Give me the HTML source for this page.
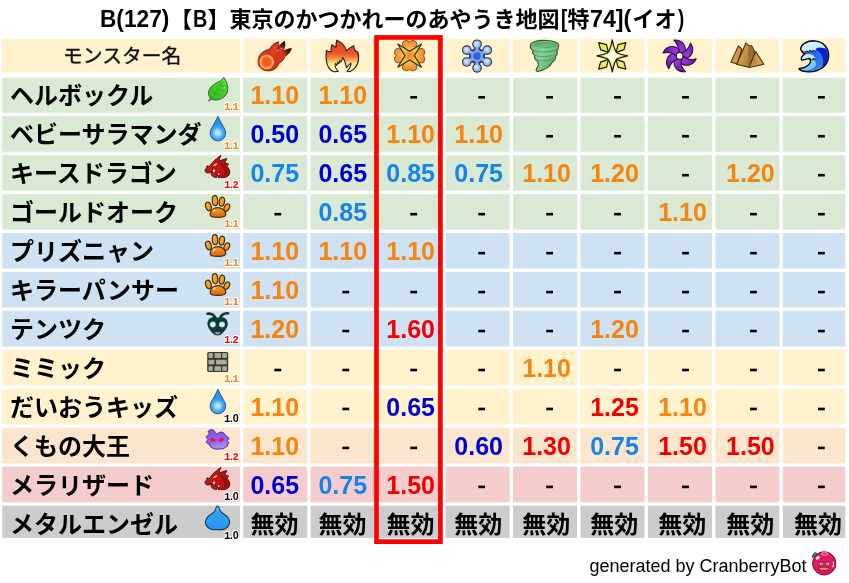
<!DOCTYPE html>
<html lang="ja"><head><meta charset="utf-8"><title>B(127)【B】東京のかつかれーのあやうき地図[特74](イオ)</title>
<style>
html,body{margin:0;padding:0;background:#fff}
#pg{position:relative;width:849px;height:583px;overflow:hidden;background:#fff;font-family:"Liberation Sans",sans-serif;filter:blur(0.45px)}
.c{position:absolute;white-space:nowrap}
.n{position:absolute;font-weight:bold;font-size:25.0px;line-height:30px;height:30px;width:80px;text-align:center;white-space:nowrap}
.m{position:absolute;font-family:"Liberation Mono",monospace;font-weight:bold;font-size:10.7px;line-height:12px;white-space:nowrap;letter-spacing:-2.15px;text-shadow:1px 0 #fff,-1px 0 #fff,0 1px #fff,0 -1px #fff,.7px .7px #fff,-.7px .7px #fff,.7px -.7px #fff,-.7px -.7px #fff}
.m b{font-family:"Liberation Sans",sans-serif;letter-spacing:0}
.tt{position:absolute;font-weight:bold;font-size:23.7px;line-height:28px;top:4.7px;white-space:nowrap;transform-origin:0 50%;color:#000}
svg{position:absolute;overflow:visible}
.jt{font-family:"Liberation Sans","Noto Sans CJK JP",sans-serif;font-weight:bold;fill:#000}
</style></head><body><div id="pg">
<svg width="849" height="583" viewBox="0 0 849 583" style="left:0;top:0">
<rect x="2.20" y="38.80" width="237.80" height="33.80" fill="#FFF2CC"/><rect x="243.20" y="38.80" width="64.00" height="33.80" fill="#FFF2CC"/><rect x="310.66" y="38.80" width="64.00" height="33.80" fill="#FFF2CC"/><rect x="378.12" y="38.80" width="64.00" height="33.80" fill="#FFF2CC"/><rect x="445.58" y="38.80" width="64.00" height="33.80" fill="#FFF2CC"/><rect x="513.04" y="38.80" width="64.00" height="33.80" fill="#FFF2CC"/><rect x="580.50" y="38.80" width="64.00" height="33.80" fill="#FFF2CC"/><rect x="647.96" y="38.80" width="64.00" height="33.80" fill="#FFF2CC"/><rect x="715.42" y="38.80" width="64.00" height="33.80" fill="#FFF2CC"/><rect x="782.88" y="38.80" width="62.42" height="33.80" fill="#FFF2CC"/>
<rect x="2.20" y="77.90" width="237.80" height="34.84" fill="#DAE9D4"/><rect x="243.20" y="77.90" width="64.00" height="34.84" fill="#DAE9D4"/><rect x="310.66" y="77.90" width="64.00" height="34.84" fill="#DAE9D4"/><rect x="378.12" y="77.90" width="64.00" height="34.84" fill="#DAE9D4"/><rect x="445.58" y="77.90" width="64.00" height="34.84" fill="#DAE9D4"/><rect x="513.04" y="77.90" width="64.00" height="34.84" fill="#DAE9D4"/><rect x="580.50" y="77.90" width="64.00" height="34.84" fill="#DAE9D4"/><rect x="647.96" y="77.90" width="64.00" height="34.84" fill="#DAE9D4"/><rect x="715.42" y="77.90" width="64.00" height="34.84" fill="#DAE9D4"/><rect x="782.88" y="77.90" width="62.42" height="34.84" fill="#DAE9D4"/>
<rect x="2.20" y="116.10" width="237.80" height="35.60" fill="#DAE9D4"/><rect x="243.20" y="116.10" width="64.00" height="35.60" fill="#DAE9D4"/><rect x="310.66" y="116.10" width="64.00" height="35.60" fill="#DAE9D4"/><rect x="378.12" y="116.10" width="64.00" height="35.60" fill="#DAE9D4"/><rect x="445.58" y="116.10" width="64.00" height="35.60" fill="#DAE9D4"/><rect x="513.04" y="116.10" width="64.00" height="35.60" fill="#DAE9D4"/><rect x="580.50" y="116.10" width="64.00" height="35.60" fill="#DAE9D4"/><rect x="647.96" y="116.10" width="64.00" height="35.60" fill="#DAE9D4"/><rect x="715.42" y="116.10" width="64.00" height="35.60" fill="#DAE9D4"/><rect x="782.88" y="116.10" width="62.42" height="35.60" fill="#DAE9D4"/>
<rect x="2.20" y="155.06" width="237.80" height="35.60" fill="#DAE9D4"/><rect x="243.20" y="155.06" width="64.00" height="35.60" fill="#DAE9D4"/><rect x="310.66" y="155.06" width="64.00" height="35.60" fill="#DAE9D4"/><rect x="378.12" y="155.06" width="64.00" height="35.60" fill="#DAE9D4"/><rect x="445.58" y="155.06" width="64.00" height="35.60" fill="#DAE9D4"/><rect x="513.04" y="155.06" width="64.00" height="35.60" fill="#DAE9D4"/><rect x="580.50" y="155.06" width="64.00" height="35.60" fill="#DAE9D4"/><rect x="647.96" y="155.06" width="64.00" height="35.60" fill="#DAE9D4"/><rect x="715.42" y="155.06" width="64.00" height="35.60" fill="#DAE9D4"/><rect x="782.88" y="155.06" width="62.42" height="35.60" fill="#DAE9D4"/>
<rect x="2.20" y="194.02" width="237.80" height="35.60" fill="#DAE9D4"/><rect x="243.20" y="194.02" width="64.00" height="35.60" fill="#DAE9D4"/><rect x="310.66" y="194.02" width="64.00" height="35.60" fill="#DAE9D4"/><rect x="378.12" y="194.02" width="64.00" height="35.60" fill="#DAE9D4"/><rect x="445.58" y="194.02" width="64.00" height="35.60" fill="#DAE9D4"/><rect x="513.04" y="194.02" width="64.00" height="35.60" fill="#DAE9D4"/><rect x="580.50" y="194.02" width="64.00" height="35.60" fill="#DAE9D4"/><rect x="647.96" y="194.02" width="64.00" height="35.60" fill="#DAE9D4"/><rect x="715.42" y="194.02" width="64.00" height="35.60" fill="#DAE9D4"/><rect x="782.88" y="194.02" width="62.42" height="35.60" fill="#DAE9D4"/>
<rect x="2.20" y="232.98" width="237.80" height="35.60" fill="#CFE2F3"/><rect x="243.20" y="232.98" width="64.00" height="35.60" fill="#CFE2F3"/><rect x="310.66" y="232.98" width="64.00" height="35.60" fill="#CFE2F3"/><rect x="378.12" y="232.98" width="64.00" height="35.60" fill="#CFE2F3"/><rect x="445.58" y="232.98" width="64.00" height="35.60" fill="#CFE2F3"/><rect x="513.04" y="232.98" width="64.00" height="35.60" fill="#CFE2F3"/><rect x="580.50" y="232.98" width="64.00" height="35.60" fill="#CFE2F3"/><rect x="647.96" y="232.98" width="64.00" height="35.60" fill="#CFE2F3"/><rect x="715.42" y="232.98" width="64.00" height="35.60" fill="#CFE2F3"/><rect x="782.88" y="232.98" width="62.42" height="35.60" fill="#CFE2F3"/>
<rect x="2.20" y="271.94" width="237.80" height="35.60" fill="#CFE2F3"/><rect x="243.20" y="271.94" width="64.00" height="35.60" fill="#CFE2F3"/><rect x="310.66" y="271.94" width="64.00" height="35.60" fill="#CFE2F3"/><rect x="378.12" y="271.94" width="64.00" height="35.60" fill="#CFE2F3"/><rect x="445.58" y="271.94" width="64.00" height="35.60" fill="#CFE2F3"/><rect x="513.04" y="271.94" width="64.00" height="35.60" fill="#CFE2F3"/><rect x="580.50" y="271.94" width="64.00" height="35.60" fill="#CFE2F3"/><rect x="647.96" y="271.94" width="64.00" height="35.60" fill="#CFE2F3"/><rect x="715.42" y="271.94" width="64.00" height="35.60" fill="#CFE2F3"/><rect x="782.88" y="271.94" width="62.42" height="35.60" fill="#CFE2F3"/>
<rect x="2.20" y="310.90" width="237.80" height="35.60" fill="#CFE2F3"/><rect x="243.20" y="310.90" width="64.00" height="35.60" fill="#CFE2F3"/><rect x="310.66" y="310.90" width="64.00" height="35.60" fill="#CFE2F3"/><rect x="378.12" y="310.90" width="64.00" height="35.60" fill="#CFE2F3"/><rect x="445.58" y="310.90" width="64.00" height="35.60" fill="#CFE2F3"/><rect x="513.04" y="310.90" width="64.00" height="35.60" fill="#CFE2F3"/><rect x="580.50" y="310.90" width="64.00" height="35.60" fill="#CFE2F3"/><rect x="647.96" y="310.90" width="64.00" height="35.60" fill="#CFE2F3"/><rect x="715.42" y="310.90" width="64.00" height="35.60" fill="#CFE2F3"/><rect x="782.88" y="310.90" width="62.42" height="35.60" fill="#CFE2F3"/>
<rect x="2.20" y="349.86" width="237.80" height="35.60" fill="#FFF2CC"/><rect x="243.20" y="349.86" width="64.00" height="35.60" fill="#FFF2CC"/><rect x="310.66" y="349.86" width="64.00" height="35.60" fill="#FFF2CC"/><rect x="378.12" y="349.86" width="64.00" height="35.60" fill="#FFF2CC"/><rect x="445.58" y="349.86" width="64.00" height="35.60" fill="#FFF2CC"/><rect x="513.04" y="349.86" width="64.00" height="35.60" fill="#FFF2CC"/><rect x="580.50" y="349.86" width="64.00" height="35.60" fill="#FFF2CC"/><rect x="647.96" y="349.86" width="64.00" height="35.60" fill="#FFF2CC"/><rect x="715.42" y="349.86" width="64.00" height="35.60" fill="#FFF2CC"/><rect x="782.88" y="349.86" width="62.42" height="35.60" fill="#FFF2CC"/>
<rect x="2.20" y="388.82" width="237.80" height="35.60" fill="#FFF2CC"/><rect x="243.20" y="388.82" width="64.00" height="35.60" fill="#FFF2CC"/><rect x="310.66" y="388.82" width="64.00" height="35.60" fill="#FFF2CC"/><rect x="378.12" y="388.82" width="64.00" height="35.60" fill="#FFF2CC"/><rect x="445.58" y="388.82" width="64.00" height="35.60" fill="#FFF2CC"/><rect x="513.04" y="388.82" width="64.00" height="35.60" fill="#FFF2CC"/><rect x="580.50" y="388.82" width="64.00" height="35.60" fill="#FFF2CC"/><rect x="647.96" y="388.82" width="64.00" height="35.60" fill="#FFF2CC"/><rect x="715.42" y="388.82" width="64.00" height="35.60" fill="#FFF2CC"/><rect x="782.88" y="388.82" width="62.42" height="35.60" fill="#FFF2CC"/>
<rect x="2.20" y="427.78" width="237.80" height="35.60" fill="#FCE5CD"/><rect x="243.20" y="427.78" width="64.00" height="35.60" fill="#FCE5CD"/><rect x="310.66" y="427.78" width="64.00" height="35.60" fill="#FCE5CD"/><rect x="378.12" y="427.78" width="64.00" height="35.60" fill="#FCE5CD"/><rect x="445.58" y="427.78" width="64.00" height="35.60" fill="#FCE5CD"/><rect x="513.04" y="427.78" width="64.00" height="35.60" fill="#FCE5CD"/><rect x="580.50" y="427.78" width="64.00" height="35.60" fill="#FCE5CD"/><rect x="647.96" y="427.78" width="64.00" height="35.60" fill="#FCE5CD"/><rect x="715.42" y="427.78" width="64.00" height="35.60" fill="#FCE5CD"/><rect x="782.88" y="427.78" width="62.42" height="35.60" fill="#FCE5CD"/>
<rect x="2.20" y="466.74" width="237.80" height="35.60" fill="#F4CCCC"/><rect x="243.20" y="466.74" width="64.00" height="35.60" fill="#F4CCCC"/><rect x="310.66" y="466.74" width="64.00" height="35.60" fill="#F4CCCC"/><rect x="378.12" y="466.74" width="64.00" height="35.60" fill="#F4CCCC"/><rect x="445.58" y="466.74" width="64.00" height="35.60" fill="#F4CCCC"/><rect x="513.04" y="466.74" width="64.00" height="35.60" fill="#F4CCCC"/><rect x="580.50" y="466.74" width="64.00" height="35.60" fill="#F4CCCC"/><rect x="647.96" y="466.74" width="64.00" height="35.60" fill="#F4CCCC"/><rect x="715.42" y="466.74" width="64.00" height="35.60" fill="#F4CCCC"/><rect x="782.88" y="466.74" width="62.42" height="35.60" fill="#F4CCCC"/>
<rect x="2.20" y="505.70" width="237.80" height="32.20" fill="#CCCCCC"/><rect x="243.20" y="505.70" width="64.00" height="32.20" fill="#CCCCCC"/><rect x="310.66" y="505.70" width="64.00" height="32.20" fill="#CCCCCC"/><rect x="378.12" y="505.70" width="64.00" height="32.20" fill="#CCCCCC"/><rect x="445.58" y="505.70" width="64.00" height="32.20" fill="#CCCCCC"/><rect x="513.04" y="505.70" width="64.00" height="32.20" fill="#CCCCCC"/><rect x="580.50" y="505.70" width="64.00" height="32.20" fill="#CCCCCC"/><rect x="647.96" y="505.70" width="64.00" height="32.20" fill="#CCCCCC"/><rect x="715.42" y="505.70" width="64.00" height="32.20" fill="#CCCCCC"/><rect x="782.88" y="505.70" width="62.42" height="32.20" fill="#CCCCCC"/>
<rect x="410.30" y="95.99" width="6.8" height="2.6" fill="#000"/><rect x="478.25" y="95.99" width="6.8" height="2.6" fill="#000"/><rect x="546.20" y="95.99" width="6.8" height="2.6" fill="#000"/><rect x="614.15" y="95.99" width="6.8" height="2.6" fill="#000"/><rect x="682.10" y="95.99" width="6.8" height="2.6" fill="#000"/><rect x="750.05" y="95.99" width="6.8" height="2.6" fill="#000"/><rect x="818.00" y="95.99" width="6.8" height="2.6" fill="#000"/><rect x="546.20" y="134.95" width="6.8" height="2.6" fill="#000"/><rect x="614.15" y="134.95" width="6.8" height="2.6" fill="#000"/><rect x="682.10" y="134.95" width="6.8" height="2.6" fill="#000"/><rect x="750.05" y="134.95" width="6.8" height="2.6" fill="#000"/><rect x="818.00" y="134.95" width="6.8" height="2.6" fill="#000"/><rect x="682.10" y="173.91" width="6.8" height="2.6" fill="#000"/><rect x="818.00" y="173.91" width="6.8" height="2.6" fill="#000"/><rect x="274.40" y="212.87" width="6.8" height="2.6" fill="#000"/><rect x="410.30" y="212.87" width="6.8" height="2.6" fill="#000"/><rect x="478.25" y="212.87" width="6.8" height="2.6" fill="#000"/><rect x="546.20" y="212.87" width="6.8" height="2.6" fill="#000"/><rect x="614.15" y="212.87" width="6.8" height="2.6" fill="#000"/><rect x="750.05" y="212.87" width="6.8" height="2.6" fill="#000"/><rect x="818.00" y="212.87" width="6.8" height="2.6" fill="#000"/><rect x="478.25" y="251.83" width="6.8" height="2.6" fill="#000"/><rect x="546.20" y="251.83" width="6.8" height="2.6" fill="#000"/><rect x="614.15" y="251.83" width="6.8" height="2.6" fill="#000"/><rect x="682.10" y="251.83" width="6.8" height="2.6" fill="#000"/><rect x="750.05" y="251.83" width="6.8" height="2.6" fill="#000"/><rect x="818.00" y="251.83" width="6.8" height="2.6" fill="#000"/><rect x="342.35" y="290.79" width="6.8" height="2.6" fill="#000"/><rect x="410.30" y="290.79" width="6.8" height="2.6" fill="#000"/><rect x="478.25" y="290.79" width="6.8" height="2.6" fill="#000"/><rect x="546.20" y="290.79" width="6.8" height="2.6" fill="#000"/><rect x="614.15" y="290.79" width="6.8" height="2.6" fill="#000"/><rect x="682.10" y="290.79" width="6.8" height="2.6" fill="#000"/><rect x="750.05" y="290.79" width="6.8" height="2.6" fill="#000"/><rect x="818.00" y="290.79" width="6.8" height="2.6" fill="#000"/><rect x="342.35" y="329.75" width="6.8" height="2.6" fill="#000"/><rect x="478.25" y="329.75" width="6.8" height="2.6" fill="#000"/><rect x="546.20" y="329.75" width="6.8" height="2.6" fill="#000"/><rect x="682.10" y="329.75" width="6.8" height="2.6" fill="#000"/><rect x="750.05" y="329.75" width="6.8" height="2.6" fill="#000"/><rect x="818.00" y="329.75" width="6.8" height="2.6" fill="#000"/><rect x="274.40" y="368.71" width="6.8" height="2.6" fill="#000"/><rect x="342.35" y="368.71" width="6.8" height="2.6" fill="#000"/><rect x="410.30" y="368.71" width="6.8" height="2.6" fill="#000"/><rect x="478.25" y="368.71" width="6.8" height="2.6" fill="#000"/><rect x="614.15" y="368.71" width="6.8" height="2.6" fill="#000"/><rect x="682.10" y="368.71" width="6.8" height="2.6" fill="#000"/><rect x="750.05" y="368.71" width="6.8" height="2.6" fill="#000"/><rect x="818.00" y="368.71" width="6.8" height="2.6" fill="#000"/><rect x="342.35" y="407.67" width="6.8" height="2.6" fill="#000"/><rect x="478.25" y="407.67" width="6.8" height="2.6" fill="#000"/><rect x="546.20" y="407.67" width="6.8" height="2.6" fill="#000"/><rect x="750.05" y="407.67" width="6.8" height="2.6" fill="#000"/><rect x="818.00" y="407.67" width="6.8" height="2.6" fill="#000"/><rect x="342.35" y="446.63" width="6.8" height="2.6" fill="#000"/><rect x="410.30" y="446.63" width="6.8" height="2.6" fill="#000"/><rect x="818.00" y="446.63" width="6.8" height="2.6" fill="#000"/><rect x="478.25" y="485.59" width="6.8" height="2.6" fill="#000"/><rect x="546.20" y="485.59" width="6.8" height="2.6" fill="#000"/><rect x="614.15" y="485.59" width="6.8" height="2.6" fill="#000"/><rect x="682.10" y="485.59" width="6.8" height="2.6" fill="#000"/><rect x="750.05" y="485.59" width="6.8" height="2.6" fill="#000"/><rect x="818.00" y="485.59" width="6.8" height="2.6" fill="#000"/>
</svg>
<div class="n" style="left:234.80px;top:80px;color:#F5850F">1.10</div>
<div class="n" style="left:302.75px;top:80px;color:#F5850F">1.10</div>
<div class="n" style="left:234.80px;top:119px;color:#0000CD">0.50</div>
<div class="n" style="left:302.75px;top:119px;color:#0000CD">0.65</div>
<div class="n" style="left:370.70px;top:119px;color:#F5850F">1.10</div>
<div class="n" style="left:438.65px;top:119px;color:#F5850F">1.10</div>
<div class="n" style="left:234.80px;top:158px;color:#1585EA">0.75</div>
<div class="n" style="left:302.75px;top:158px;color:#0000CD">0.65</div>
<div class="n" style="left:370.70px;top:158px;color:#1585EA">0.85</div>
<div class="n" style="left:438.65px;top:158px;color:#1585EA">0.75</div>
<div class="n" style="left:506.60px;top:158px;color:#F5850F">1.10</div>
<div class="n" style="left:574.55px;top:158px;color:#F5850F">1.20</div>
<div class="n" style="left:710.45px;top:158px;color:#F5850F">1.20</div>
<div class="n" style="left:302.75px;top:197px;color:#1585EA">0.85</div>
<div class="n" style="left:642.50px;top:197px;color:#F5850F">1.10</div>
<div class="n" style="left:234.80px;top:236px;color:#F5850F">1.10</div>
<div class="n" style="left:302.75px;top:236px;color:#F5850F">1.10</div>
<div class="n" style="left:370.70px;top:236px;color:#F5850F">1.10</div>
<div class="n" style="left:234.80px;top:275px;color:#F5850F">1.10</div>
<div class="n" style="left:234.80px;top:314px;color:#F5850F">1.20</div>
<div class="n" style="left:370.70px;top:314px;color:#F00000">1.60</div>
<div class="n" style="left:574.55px;top:314px;color:#F5850F">1.20</div>
<div class="n" style="left:506.60px;top:353px;color:#F5850F">1.10</div>
<div class="n" style="left:234.80px;top:392px;color:#F5850F">1.10</div>
<div class="n" style="left:370.70px;top:392px;color:#0000CD">0.65</div>
<div class="n" style="left:574.55px;top:392px;color:#F00000">1.25</div>
<div class="n" style="left:642.50px;top:392px;color:#F5850F">1.10</div>
<div class="n" style="left:234.80px;top:431px;color:#F5850F">1.10</div>
<div class="n" style="left:438.65px;top:431px;color:#0000CD">0.60</div>
<div class="n" style="left:506.60px;top:431px;color:#F00000">1.30</div>
<div class="n" style="left:574.55px;top:431px;color:#1585EA">0.75</div>
<div class="n" style="left:642.50px;top:431px;color:#F00000">1.50</div>
<div class="n" style="left:710.45px;top:431px;color:#F00000">1.50</div>
<div class="n" style="left:234.80px;top:470px;color:#0000CD">0.65</div>
<div class="n" style="left:302.75px;top:470px;color:#1585EA">0.75</div>
<div class="n" style="left:370.70px;top:470px;color:#F00000">1.50</div>
<svg style="left:243.00px;top:36.00px" width="68" height="40" viewBox="0 0 849 499"><defs><radialGradient id="fbg" cx="296" cy="324" r="92" gradientUnits="userSpaceOnUse"><stop offset="0" stop-color="#EC5620"/><stop offset="0.55" stop-color="#EE5E20"/><stop offset="0.78" stop-color="#F59446"/><stop offset="0.93" stop-color="#FAC080"/><stop offset="1" stop-color="#EA6A30"/></radialGradient>
<linearGradient id="fb2" x1="518" y1="66" x2="470" y2="185" gradientUnits="userSpaceOnUse"><stop offset="0" stop-color="#1E0C0C"/><stop offset="0.45" stop-color="#4A1614"/><stop offset="1" stop-color="#C42C1C" stop-opacity="0"/></linearGradient>
<linearGradient id="fb3" x1="603" y1="156" x2="490" y2="230" gradientUnits="userSpaceOnUse"><stop offset="0" stop-color="#1E0C0C"/><stop offset="0.45" stop-color="#4A1614"/><stop offset="1" stop-color="#C42C1C" stop-opacity="0"/></linearGradient></defs>
<path d="M200,262C215,215 262,180 332,165C352,120 392,85 442,72C452,100 448,128 438,160C454,122 482,88 518,66C530,100 524,142 497,192C530,172 568,160 603,156C592,200 562,235 522,257C512,292 492,317 452,337C432,402 370,442 300,434C228,430 178,370 190,300C192,285 195,272 200,262Z" fill="#D2361E" stroke="#6E1A10" stroke-width="11" stroke-linejoin="round"/>
<path d="M438,160C454,122 482,88 518,66C530,100 524,142 497,192C485,210 470,225 455,235C450,205 445,180 438,160Z" fill="url(#fb2)"/>
<path d="M497,192C530,172 568,160 603,156C592,200 562,235 522,257C500,268 480,272 465,270C478,245 488,218 497,192Z" fill="url(#fb3)"/>
<path d="M345,180C365,140 400,105 436,88C438,120 425,150 410,180C395,205 390,235 400,262C380,240 355,215 345,180Z" fill="#E0401E"/>
<circle cx="298" cy="322" r="108" fill="#DA3C1C"/>
<circle cx="296" cy="324" r="92" fill="url(#fbg)"/>
<path d="M418,188L446,174M468,152L494,160" stroke="#E8D0CC" stroke-width="9" stroke-linecap="round" opacity="0.75"/></svg>
<svg style="left:310.00px;top:36.00px" width="68" height="40" viewBox="0 0 849 499"><defs><linearGradient id="flg" x1="0" y1="52" x2="0" y2="446" gradientUnits="userSpaceOnUse"><stop offset="0" stop-color="#E23C2A"/><stop offset="0.42" stop-color="#EC552A"/><stop offset="0.58" stop-color="#F4923A"/><stop offset="0.74" stop-color="#FBE28E"/><stop offset="1" stop-color="#FFFAC8"/></linearGradient></defs>
<path d="M335,52C400,80 440,130 455,185C480,160 510,135 548,122C545,160 560,190 598,200C622,290 602,392 500,444L462,440C498,400 518,372 510,338C490,352 475,368 455,395C447,352 440,312 410,270C402,292 396,308 386,325L370,308L360,345L345,328L336,366L318,344C302,382 322,412 352,442L300,446C220,420 190,330 205,180C225,195 240,200 262,195C262,165 265,135 275,108C290,125 305,135 325,138C322,105 325,80 335,52Z" fill="url(#flg)" stroke="#2B1B12" stroke-width="14" stroke-linejoin="round"/></svg>
<svg style="left:374.00px;top:36.00px" width="68" height="40" viewBox="0 0 849 499"><defs><radialGradient id="bgl" cx="445" cy="245" r="200" gradientUnits="userSpaceOnUse"><stop offset="0.3" stop-color="#FBD478"/><stop offset="0.62" stop-color="#F3A244"/><stop offset="1" stop-color="#EC8628"/></radialGradient><radialGradient id="bgs" cx="445" cy="245" r="190" gradientUnits="userSpaceOnUse"><stop offset="0" stop-color="#F28A2C"/><stop offset="0.28" stop-color="#F0A836"/><stop offset="0.55" stop-color="#EDD040"/><stop offset="1" stop-color="#E2D048"/></radialGradient></defs><path d="M445,190C400,170 346,134 356,90C364,52 420,46 445,76C470,46 526,52 534,90C544,134 490,170 445,190Z" transform="rotate(0 445 245)" fill="url(#bgl)" stroke="#744410" stroke-width="12" stroke-linejoin="round"/><path d="M445,190C400,170 346,134 356,90C364,52 420,46 445,76C470,46 526,52 534,90C544,134 490,170 445,190Z" transform="rotate(90 445 245)" fill="url(#bgl)" stroke="#744410" stroke-width="12" stroke-linejoin="round"/><path d="M445,190C400,170 346,134 356,90C364,52 420,46 445,76C470,46 526,52 534,90C544,134 490,170 445,190Z" transform="rotate(180 445 245)" fill="url(#bgl)" stroke="#744410" stroke-width="12" stroke-linejoin="round"/><path d="M445,190C400,170 346,134 356,90C364,52 420,46 445,76C470,46 526,52 534,90C544,134 490,170 445,190Z" transform="rotate(270 445 245)" fill="url(#bgl)" stroke="#744410" stroke-width="12" stroke-linejoin="round"/><path d="M296,100L445,190L594,100L504,245L594,390L445,300L296,390L386,245Z" fill="url(#bgs)" stroke="#34300A" stroke-width="14" stroke-linejoin="round"/></svg>
<svg style="left:443.00px;top:36.00px" width="68" height="40" viewBox="0 0 849 499"><defs><radialGradient id="sng" cx="0.42" cy="0.4" r="0.6"><stop offset="0" stop-color="#E8F2FF"/><stop offset="0.55" stop-color="#A9C8F8"/><stop offset="1" stop-color="#7FAAF0"/></radialGradient></defs><line x1="425" y1="250" x2="425" y2="102" stroke="#2A3440" stroke-width="70"/><circle cx="425" cy="102" r="60" fill="#2A3440"/><line x1="425" y1="250" x2="553" y2="176" stroke="#2A3440" stroke-width="70"/><circle cx="553" cy="176" r="60" fill="#2A3440"/><line x1="425" y1="250" x2="553" y2="324" stroke="#2A3440" stroke-width="70"/><circle cx="553" cy="324" r="60" fill="#2A3440"/><line x1="425" y1="250" x2="425" y2="398" stroke="#2A3440" stroke-width="70"/><circle cx="425" cy="398" r="60" fill="#2A3440"/><line x1="425" y1="250" x2="297" y2="324" stroke="#2A3440" stroke-width="70"/><circle cx="297" cy="324" r="60" fill="#2A3440"/><line x1="425" y1="250" x2="297" y2="176" stroke="#2A3440" stroke-width="70"/><circle cx="297" cy="176" r="60" fill="#2A3440"/><circle cx="425" cy="250" r="100" fill="#2A3440"/><line x1="425" y1="250" x2="425" y2="102" stroke="#7FA8F0" stroke-width="42"/><line x1="425" y1="250" x2="553" y2="176" stroke="#7FA8F0" stroke-width="42"/><line x1="425" y1="250" x2="553" y2="324" stroke="#7FA8F0" stroke-width="42"/><line x1="425" y1="250" x2="425" y2="398" stroke="#7FA8F0" stroke-width="42"/><line x1="425" y1="250" x2="297" y2="324" stroke="#7FA8F0" stroke-width="42"/><line x1="425" y1="250" x2="297" y2="176" stroke="#7FA8F0" stroke-width="42"/><polygon points="425,162 501,206 501,294 425,338 349,294 349,206" fill="#74A2F0"/><circle cx="425" cy="102" r="46" fill="url(#sng)"/><circle cx="553" cy="176" r="46" fill="url(#sng)"/><circle cx="553" cy="324" r="46" fill="url(#sng)"/><circle cx="425" cy="398" r="46" fill="url(#sng)"/><circle cx="297" cy="324" r="46" fill="url(#sng)"/><circle cx="297" cy="176" r="46" fill="url(#sng)"/><circle cx="425" cy="250" r="46" fill="#3462DA"/></svg>
<svg style="left:511.00px;top:36.00px" width="68" height="40" viewBox="0 0 849 499"><defs><linearGradient id="tng" x1="0" y1="0" x2="1" y2="0.3"><stop offset="0" stop-color="#64B478"/><stop offset="0.5" stop-color="#84CE96"/><stop offset="1" stop-color="#5AA86C"/></linearGradient></defs>
<path d="M240,125C240,75 330,50 440,55C540,60 605,85 595,125C590,160 582,175 572,195C586,215 572,240 556,255C566,280 542,310 520,322C490,382 420,427 330,444C303,442 313,410 335,385C350,350 340,320 315,300C290,285 290,260 300,245C265,225 265,195 280,180C245,165 238,145 240,125Z" fill="url(#tng)" stroke="#2C5230" stroke-width="13" stroke-linejoin="round"/>
<path d="M262,168C330,212 480,208 578,160M287,236C350,268 470,262 562,224M308,296C360,322 450,312 528,284" fill="none" stroke="#4E9C5E" stroke-width="11" stroke-linecap="round"/>
<path d="M266,150C330,190 480,188 578,142M292,218C350,248 470,244 560,208" fill="none" stroke="#9CE2A8" stroke-width="9" stroke-linecap="round" opacity="0.8"/>
<ellipse cx="420" cy="112" rx="140" ry="36" fill="#56A866" transform="rotate(2 420 112)"/>
<ellipse cx="420" cy="120" rx="110" ry="22" fill="#66B876"/></svg>
<svg style="left:578.00px;top:36.00px" width="68" height="40" viewBox="0 0 849 499"><defs><radialGradient id="ltg" cx="428" cy="248" r="190" gradientUnits="userSpaceOnUse"><stop offset="0" stop-color="#FFFFFF"/><stop offset="0.2" stop-color="#FFFFF0"/><stop offset="0.52" stop-color="#F4F478"/><stop offset="1" stop-color="#E6E650"/></radialGradient></defs><polygon points="258,82 356,108 380,204 282,170" fill="#ECEC58" stroke="#1A1A0A" stroke-width="15" stroke-linejoin="round"/><polygon points="598,82 500,108 476,204 574,170" fill="#ECEC58" stroke="#1A1A0A" stroke-width="15" stroke-linejoin="round"/><polygon points="258,414 356,388 380,292 282,326" fill="#ECEC58" stroke="#1A1A0A" stroke-width="15" stroke-linejoin="round"/><polygon points="598,414 500,388 476,292 574,326" fill="#ECEC58" stroke="#1A1A0A" stroke-width="15" stroke-linejoin="round"/><path d="M428,48C444,128 456,186 488,212C530,228 574,238 620,248C574,258 530,268 488,284C456,310 444,368 428,448C412,368 400,310 368,284C326,268 282,258 236,248C282,238 326,228 368,212C400,186 412,128 428,48Z" fill="url(#ltg)" stroke="#1A1A0A" stroke-width="15" stroke-linejoin="round"/></svg>
<svg style="left:646.00px;top:36.00px" width="68" height="40" viewBox="0 0 849 499"><defs><linearGradient id="dkg" x1="350" y1="50" x2="480" y2="215" gradientUnits="userSpaceOnUse"><stop offset="0" stop-color="#5E1898"/><stop offset="0.55" stop-color="#8A2CCC"/><stop offset="1" stop-color="#A040E2"/></linearGradient></defs><path d="M348,50C452,40 514,126 482,212L396,208C412,158 396,100 348,50Z" transform="rotate(0 420 248)" fill="url(#dkg)" stroke="#2A0E3C" stroke-width="13" stroke-linejoin="round"/><path d="M348,50C452,40 514,126 482,212L396,208C412,158 396,100 348,50Z" transform="rotate(60 420 248)" fill="url(#dkg)" stroke="#2A0E3C" stroke-width="13" stroke-linejoin="round"/><path d="M348,50C452,40 514,126 482,212L396,208C412,158 396,100 348,50Z" transform="rotate(120 420 248)" fill="url(#dkg)" stroke="#2A0E3C" stroke-width="13" stroke-linejoin="round"/><path d="M348,50C452,40 514,126 482,212L396,208C412,158 396,100 348,50Z" transform="rotate(180 420 248)" fill="url(#dkg)" stroke="#2A0E3C" stroke-width="13" stroke-linejoin="round"/><path d="M348,50C452,40 514,126 482,212L396,208C412,158 396,100 348,50Z" transform="rotate(240 420 248)" fill="url(#dkg)" stroke="#2A0E3C" stroke-width="13" stroke-linejoin="round"/><path d="M348,50C452,40 514,126 482,212L396,208C412,158 396,100 348,50Z" transform="rotate(300 420 248)" fill="url(#dkg)" stroke="#2A0E3C" stroke-width="13" stroke-linejoin="round"/><circle cx="420" cy="248" r="42" fill="#FFF6DC" stroke="#2A0E3C" stroke-width="13"/></svg>
<svg style="left:714.00px;top:36.00px" width="68" height="40" viewBox="0 0 849 499"><defs><linearGradient id="eag" x1="0" y1="0" x2="1" y2="0.4"><stop offset="0" stop-color="#D8A860"/><stop offset="0.55" stop-color="#C89248"/><stop offset="1" stop-color="#9A6E30"/></linearGradient></defs>
<path d="M305,123L347,165L292,352L210,326Z" fill="#CC9850" stroke="#3A2810" stroke-width="13" stroke-linejoin="round"/>
<path d="M400,84L432,120L470,122L512,200L442,392L284,352Z" fill="url(#eag)" stroke="#3A2810" stroke-width="13" stroke-linejoin="round"/>
<path d="M432,122L470,124L510,202L470,300L440,388L425,250Z" fill="#93682C" opacity="0.75"/>
<path d="M520,194L622,352L442,392Z" fill="#D09A50" stroke="#3A2810" stroke-width="13" stroke-linejoin="round"/>
<path d="M520,210L530,372L446,388Z" fill="#B98440" opacity="0.8"/></svg>
<svg style="left:781.00px;top:36.00px" width="68" height="40" viewBox="0 0 849 499"><defs><linearGradient id="wvg" x1="0.2" y1="0" x2="0.8" y2="1"><stop offset="0" stop-color="#2A60E0"/><stop offset="0.5" stop-color="#2E6CE6"/><stop offset="1" stop-color="#3C8CF0"/></linearGradient></defs>
<path d="M245,165C250,100 330,55 420,60C530,65 602,150 594,260C586,372 480,447 350,447C290,447 240,432 223,410C260,400 330,390 360,340C375,310 370,290 350,280C320,290 290,302 255,300C245,270 270,235 300,225C280,215 258,200 245,165Z" fill="url(#wvg)"/>
<path d="M250,165C255,105 330,66 420,68C480,70 530,100 556,150L470,152C440,152 430,170 425,188L400,170L385,192L365,166L350,192L320,180L300,196C275,196 255,186 250,165Z" fill="#CFECF8"/>
<path d="M428,168C468,132 530,140 566,176C600,250 585,340 515,395C545,305 520,205 428,168Z" fill="#0C1CCC"/>
<path d="M258,290C255,255 290,226 340,226C390,226 420,250 430,282L400,276L390,296L370,280L350,286C320,296 285,300 258,290Z" fill="#CAE8F8"/>
<path d="M377,292C422,292 452,330 432,372C402,422 320,442 250,420C320,400 372,370 377,292Z" fill="#7ACAF6"/>
<path d="M262,196C285,206 305,204 322,190L350,200L365,174L385,200L400,178L428,196" fill="none" stroke="#0A0A0A" stroke-width="9" stroke-linejoin="round" stroke-linecap="round"/>
<path d="M350,290L370,284L390,300L400,280L430,288" fill="none" stroke="#0A0A0A" stroke-width="8" stroke-linejoin="round" stroke-linecap="round"/>
<path d="M245,165C250,100 330,55 420,60C530,65 602,150 594,260C586,372 480,447 350,447C290,447 240,432 223,410C260,400 330,390 360,340C375,310 370,290 350,280C320,290 290,302 255,300C245,270 270,235 300,225C280,215 258,200 245,165Z" fill="none" stroke="#0A0A0A" stroke-width="17" stroke-linejoin="round"/></svg>
<svg style="left:198.00px;top:76.00px" width="44" height="40" viewBox="0 0 641 583"><defs><linearGradient id="lfg" x1="0.2" y1="1" x2="0.9" y2="0"><stop offset="0" stop-color="#36BE22"/><stop offset="0.6" stop-color="#46D02C"/><stop offset="1" stop-color="#62E244"/></linearGradient></defs>
<path d="M190,325L160,360" stroke="#55604A" stroke-width="22" stroke-linecap="round"/>
<path d="M375,20C420,80 450,170 425,240C395,320 300,365 215,345C170,330 145,280 155,225C175,150 250,110 310,80C340,62 360,42 375,20Z" fill="url(#lfg)" stroke="#2A5A20" stroke-width="13" stroke-linejoin="round"/>
<path d="M200,320C260,250 320,170 365,80M245,262L215,215M245,262L320,275M290,200L262,150M290,200L370,215M330,140L310,105M330,140L395,150" fill="none" stroke="#2C9A1C" stroke-width="8" stroke-linecap="round"/>
<circle cx="388" cy="172" r="9" fill="#D8FFD0"/></svg>
<div class="m" style="left:224.1px;top:101px;color:#F08010">1.1</div>
<svg style="left:198.00px;top:115.28px" width="44" height="40" viewBox="0 0 641 583"><defs><radialGradient id="drg" cx="285" cy="262" r="125" gradientUnits="userSpaceOnUse"><stop offset="0" stop-color="#D4EEFF"/><stop offset="0.25" stop-color="#AEDFFC"/><stop offset="0.62" stop-color="#46AAF2"/><stop offset="1" stop-color="#2A92EA"/></radialGradient></defs>
<path d="M290,20C308,62 336,112 364,162C392,206 407,240 402,280C392,338 346,376 290,376C234,376 188,338 178,280C173,240 188,206 216,162C244,112 272,62 290,20Z" fill="url(#drg)" stroke="#17589A" stroke-width="14" stroke-linejoin="round"/></svg>
<div class="m" style="left:224.1px;top:140px;color:#F08010">1.1</div>
<svg style="left:198.00px;top:154.00px" width="44" height="40" viewBox="0 0 641 583"><path d="M335,22C322,55 308,80 302,104C337,90 377,78 418,66C407,95 397,115 392,134C412,134 432,140 448,150C432,160 422,170 427,185C457,215 472,260 457,296C437,337 380,352 330,342L298,347L290,308L270,342C240,342 213,332 198,311C189,291 194,271 204,257C180,277 140,287 114,266C93,246 103,214 129,199C124,189 124,179 135,170C150,179 160,181 172,177C195,139 230,99 265,74C285,54 310,36 335,22Z" fill="#BC1616" stroke="#520C0C" stroke-width="14" stroke-linejoin="round"/>
<path d="M300,110C330,150 372,200 382,260C387,300 362,330 330,340C380,347 442,332 454,292C467,252 452,215 427,188C402,160 350,130 300,110Z" fill="#8E1010" opacity="0.8"/>
<path d="M204,258C230,262 262,275 292,305" fill="none" stroke="#6A0E0E" stroke-width="9" stroke-linecap="round"/>
<path d="M222,162C238,140 265,134 282,140C276,162 254,174 230,174Z" fill="#F8D020"/>
<path d="M214,240C225,224 240,221 251,228L236,274L221,263Z" fill="#F8F0F0"/>
<path d="M289,302L300,272L313,307Z" fill="#F0E0E0"/></svg>
<div class="m" style="left:224.1px;top:179px;color:#E01010">1.2</div>
<svg style="left:198.00px;top:193.00px" width="44" height="40" viewBox="0 0 641 583"><defs><linearGradient id="pwg" x1="0" y1="0" x2="0" y2="1"><stop offset="0" stop-color="#F8A020"/><stop offset="0.5" stop-color="#E88018"/><stop offset="1" stop-color="#C86010"/></linearGradient>
<linearGradient id="ptg" x1="0" y1="0" x2="1" y2="1"><stop offset="0" stop-color="#FAB030"/><stop offset="1" stop-color="#EE9018"/></linearGradient></defs>
<g stroke="#4A2808" stroke-width="17" fill="url(#ptg)">
<ellipse cx="152" cy="196" rx="40" ry="64" transform="rotate(-16 152 196)"/>
<ellipse cx="248" cy="112" rx="40" ry="74" transform="rotate(-4 248 112)"/>
<ellipse cx="348" cy="127" rx="38" ry="66" transform="rotate(10 348 127)"/>
<ellipse cx="420" cy="212" rx="36" ry="57" transform="rotate(26 420 212)"/>
<path d="M176,310C180,250 230,214 290,214C350,214 400,258 405,310C405,345 370,356 290,356C210,356 173,345 176,310Z" fill="url(#pwg)"/></g>
<ellipse cx="238" cy="256" rx="20" ry="13" fill="#FFF4E0" transform="rotate(-30 238 256)"/></svg>
<div class="m" style="left:224.1px;top:218px;color:#F08010">1.1</div>
<svg style="left:198.00px;top:231.96px" width="44" height="40" viewBox="0 0 641 583"><defs><linearGradient id="pwg5" x1="0" y1="0" x2="0" y2="1"><stop offset="0" stop-color="#F8A020"/><stop offset="0.5" stop-color="#E88018"/><stop offset="1" stop-color="#C86010"/></linearGradient>
<linearGradient id="ptg5" x1="0" y1="0" x2="1" y2="1"><stop offset="0" stop-color="#FAB030"/><stop offset="1" stop-color="#EE9018"/></linearGradient></defs>
<g stroke="#4A2808" stroke-width="17" fill="url(#ptg5)">
<ellipse cx="152" cy="196" rx="40" ry="64" transform="rotate(-16 152 196)"/>
<ellipse cx="248" cy="112" rx="40" ry="74" transform="rotate(-4 248 112)"/>
<ellipse cx="348" cy="127" rx="38" ry="66" transform="rotate(10 348 127)"/>
<ellipse cx="420" cy="212" rx="36" ry="57" transform="rotate(26 420 212)"/>
<path d="M176,310C180,250 230,214 290,214C350,214 400,258 405,310C405,345 370,356 290,356C210,356 173,345 176,310Z" fill="url(#pwg5)"/></g>
<ellipse cx="238" cy="256" rx="20" ry="13" fill="#FFF4E0" transform="rotate(-30 238 256)"/></svg>
<div class="m" style="left:224.1px;top:257px;color:#F08010">1.1</div>
<svg style="left:198.00px;top:270.92px" width="44" height="40" viewBox="0 0 641 583"><defs><linearGradient id="pwg6" x1="0" y1="0" x2="0" y2="1"><stop offset="0" stop-color="#F8A020"/><stop offset="0.5" stop-color="#E88018"/><stop offset="1" stop-color="#C86010"/></linearGradient>
<linearGradient id="ptg6" x1="0" y1="0" x2="1" y2="1"><stop offset="0" stop-color="#FAB030"/><stop offset="1" stop-color="#EE9018"/></linearGradient></defs>
<g stroke="#4A2808" stroke-width="17" fill="url(#ptg6)">
<ellipse cx="152" cy="196" rx="40" ry="64" transform="rotate(-16 152 196)"/>
<ellipse cx="248" cy="112" rx="40" ry="74" transform="rotate(-4 248 112)"/>
<ellipse cx="348" cy="127" rx="38" ry="66" transform="rotate(10 348 127)"/>
<ellipse cx="420" cy="212" rx="36" ry="57" transform="rotate(26 420 212)"/>
<path d="M176,310C180,250 230,214 290,214C350,214 400,258 405,310C405,345 370,356 290,356C210,356 173,345 176,310Z" fill="url(#pwg6)"/></g>
<ellipse cx="238" cy="256" rx="20" ry="13" fill="#FFF4E0" transform="rotate(-30 238 256)"/></svg>
<div class="m" style="left:224.1px;top:296px;color:#F08010">1.1</div>
<svg style="left:198.00px;top:310.00px" width="44" height="40" viewBox="0 0 641 583"><defs><radialGradient id="bgy" cx="0.5" cy="0.5" r="0.5"><stop offset="0" stop-color="#FFFFFF"/><stop offset="0.55" stop-color="#D6F8F0"/><stop offset="1" stop-color="#8ECEC4"/></radialGradient></defs>
<path d="M264,140C242,76 192,46 138,54M310,140C333,76 383,42 438,48" fill="none" stroke="#12383A" stroke-width="38" stroke-linecap="round"/>
<path d="M285,112C240,90 160,100 140,170C125,230 170,300 228,350C250,378 320,378 342,350C400,300 450,230 430,170C410,100 330,90 285,112Z" fill="#12383A"/>
<circle cx="216" cy="210" r="44" fill="url(#bgy)"/><circle cx="350" cy="210" r="44" fill="url(#bgy)"/>
<rect x="254" y="322" width="62" height="30" rx="6" fill="#A8A8A8"/><path d="M285,322V352" stroke="#3A3A3A" stroke-width="6"/></svg>
<div class="m" style="left:224.1px;top:334px;color:#E01010">1.2</div>
<svg style="left:198.00px;top:349.00px" width="44" height="40" viewBox="0 0 641 583"><rect x="134" y="44" width="306" height="292" rx="22" fill="#3A382F"/><rect x="152" y="60" width="64" height="70" rx="8" fill="#9E9A8E"/><rect x="160" y="68" width="48" height="54" rx="4" fill="#AEAA9E"/><rect x="240" y="60" width="96" height="70" rx="8" fill="#9E9A8E"/><rect x="248" y="68" width="80" height="54" rx="4" fill="#AEAA9E"/><rect x="352" y="60" width="70" height="70" rx="8" fill="#9E9A8E"/><rect x="360" y="68" width="54" height="54" rx="4" fill="#AEAA9E"/><rect x="152" y="156" width="88" height="70" rx="8" fill="#9E9A8E"/><rect x="160" y="164" width="72" height="54" rx="4" fill="#AEAA9E"/><rect x="262" y="156" width="156" height="70" rx="8" fill="#9E9A8E"/><rect x="270" y="164" width="140" height="54" rx="4" fill="#AEAA9E"/><rect x="152" y="250" width="64" height="70" rx="8" fill="#9E9A8E"/><rect x="160" y="258" width="48" height="54" rx="4" fill="#AEAA9E"/><rect x="240" y="250" width="96" height="70" rx="8" fill="#9E9A8E"/><rect x="248" y="258" width="80" height="54" rx="4" fill="#AEAA9E"/><rect x="352" y="250" width="70" height="70" rx="8" fill="#9E9A8E"/><rect x="360" y="258" width="54" height="54" rx="4" fill="#AEAA9E"/></svg>
<div class="m" style="left:224.1px;top:373px;color:#F08010">1.1</div>
<svg style="left:198.00px;top:388.00px" width="44" height="40" viewBox="0 0 641 583"><defs><radialGradient id="drg9" cx="285" cy="262" r="125" gradientUnits="userSpaceOnUse"><stop offset="0" stop-color="#D4EEFF"/><stop offset="0.25" stop-color="#AEDFFC"/><stop offset="0.62" stop-color="#46AAF2"/><stop offset="1" stop-color="#2A92EA"/></radialGradient></defs>
<path d="M290,20C308,62 336,112 364,162C392,206 407,240 402,280C392,338 346,376 290,376C234,376 188,338 178,280C173,240 188,206 216,162C244,112 272,62 290,20Z" fill="url(#drg9)" stroke="#17589A" stroke-width="14" stroke-linejoin="round"/></svg>
<div class="m" style="left:224.1px;top:412px;color:#000000">1.<b>0</b></div>
<svg style="left:198.00px;top:427.00px" width="44" height="40" viewBox="0 0 641 583"><defs><linearGradient id="ghg" x1="0.3" y1="0" x2="0.5" y2="1"><stop offset="0" stop-color="#8656EE"/><stop offset="0.6" stop-color="#9064F0"/><stop offset="1" stop-color="#B09CE8"/></linearGradient>
<radialGradient id="gey" cx="0.5" cy="0.5" r="0.5"><stop offset="0" stop-color="#FF1010"/><stop offset="0.55" stop-color="#F01838"/><stop offset="1" stop-color="#C030A0" stop-opacity="0.25"/></radialGradient></defs>
<path d="M160,50C190,30 240,40 245,70C255,95 270,105 290,100C300,75 340,65 370,85C395,100 400,130 420,140C450,150 460,170 440,185C430,195 425,205 440,215C455,235 450,255 425,250C440,275 430,295 400,290C380,320 340,325 300,320C260,330 220,320 200,295C175,290 160,270 170,250C135,245 110,225 125,205C140,195 150,190 150,180C120,170 110,140 135,125C150,115 165,110 170,100C145,90 140,65 160,50Z" fill="url(#ghg)" stroke="#3A2A82" stroke-width="14" stroke-linejoin="round"/>
<ellipse cx="216" cy="186" rx="50" ry="33" fill="url(#gey)" transform="rotate(28 216 186)"/>
<ellipse cx="340" cy="186" rx="50" ry="33" fill="url(#gey)" transform="rotate(-28 340 186)"/></svg>
<div class="m" style="left:224.1px;top:451px;color:#E01010">1.2</div>
<svg style="left:198.00px;top:465.68px" width="44" height="40" viewBox="0 0 641 583"><path d="M335,22C322,55 308,80 302,104C337,90 377,78 418,66C407,95 397,115 392,134C412,134 432,140 448,150C432,160 422,170 427,185C457,215 472,260 457,296C437,337 380,352 330,342L298,347L290,308L270,342C240,342 213,332 198,311C189,291 194,271 204,257C180,277 140,287 114,266C93,246 103,214 129,199C124,189 124,179 135,170C150,179 160,181 172,177C195,139 230,99 265,74C285,54 310,36 335,22Z" fill="#BC1616" stroke="#520C0C" stroke-width="14" stroke-linejoin="round"/>
<path d="M300,110C330,150 372,200 382,260C387,300 362,330 330,340C380,347 442,332 454,292C467,252 452,215 427,188C402,160 350,130 300,110Z" fill="#8E1010" opacity="0.8"/>
<path d="M204,258C230,262 262,275 292,305" fill="none" stroke="#6A0E0E" stroke-width="9" stroke-linecap="round"/>
<path d="M222,162C238,140 265,134 282,140C276,162 254,174 230,174Z" fill="#F8D020"/>
<path d="M214,240C225,224 240,221 251,228L236,274L221,263Z" fill="#F8F0F0"/>
<path d="M289,302L300,272L313,307Z" fill="#F0E0E0"/></svg>
<div class="m" style="left:224.1px;top:490px;color:#000000">1.<b>0</b></div>
<svg style="left:198.00px;top:504.00px" width="44" height="40" viewBox="0 0 641 583"><defs><linearGradient id="slg" x1="0" y1="0" x2="0" y2="1"><stop offset="0" stop-color="#6CC4F8"/><stop offset="0.3" stop-color="#30A0F2"/><stop offset="1" stop-color="#2696EE"/></linearGradient></defs>
<path d="M285,28C305,28 310,60 320,95C340,135 400,150 440,200C480,260 460,330 400,360C350,382 220,382 170,360C105,330 90,260 130,200C165,150 230,135 250,95C260,60 265,28 285,28Z" fill="url(#slg)" stroke="#163450" stroke-width="15" stroke-linejoin="round"/></svg>
<div class="m" style="left:224.1px;top:529px;color:#000000">1.<b>0</b></div>
<svg style="left:805.00px;top:543.00px" width="44" height="40" viewBox="0 0 641 583"><path d="M110,215C95,190 110,160 150,135C165,150 185,160 200,165Z" fill="#2E8A4A" stroke="#1A4A2A" stroke-width="8" stroke-linejoin="round"/>
<circle cx="280" cy="297" r="170" fill="#E01A5A" stroke="#6A0E2A" stroke-width="14"/>
<path d="M235,160C245,125 325,125 335,160C320,185 250,185 235,160Z" fill="#E82A66" stroke="#FBD8E4" stroke-width="10"/>
<ellipse cx="186" cy="216" rx="34" ry="20" fill="#FFFFFF" transform="rotate(-38 186 216)"/>
<path d="M412,278C421,300 416,332 402,348" stroke="#FFF0F5" stroke-width="15" stroke-linecap="round" fill="none"/>
<ellipse cx="240" cy="300" rx="26" ry="24" fill="#F4F4F0" stroke="#50102A" stroke-width="6"/><ellipse cx="326" cy="300" rx="26" ry="24" fill="#F4F4F0" stroke="#50102A" stroke-width="6"/>
<circle cx="244" cy="302" r="10" fill="#222"/><circle cx="322" cy="302" r="10" fill="#222"/>
<path d="M215,275L268,285M350,275L298,285" stroke="#50102A" stroke-width="8" stroke-linecap="round"/>
<path d="M192,362C230,350 320,350 360,362C350,395 300,402 275,402C245,402 200,395 192,362Z" fill="#F08470" stroke="#6A0E2A" stroke-width="11" stroke-linejoin="round"/></svg>
<svg width="849" height="583" viewBox="0 0 849 583" style="left:0;top:0">
<text class="jt" x="170" y="27" font-size="22">【</text>
<text class="jt" x="207.5" y="27" font-size="22">】東京のかつかれーのあやうき地図</text>
<text class="jt" x="567.5" y="27" font-size="22">特</text>
<text class="jt" x="632.5" y="27" font-size="22">イオ</text>
<text x="63" y="62.5" font-size="19.8" font-family="&quot;Liberation Sans&quot;,&quot;Noto Sans CJK JP&quot;,sans-serif" fill="#111" stroke="#111" stroke-width="0.4">モンスター名</text>
<text class="jt" x="10" y="104.04" font-size="24">ヘルボックル</text>
<text class="jt" x="10" y="143.0" font-size="24">ベビーサラマンダ</text>
<text class="jt" x="10" y="181.96" font-size="24">キースドラゴン</text>
<text class="jt" x="10" y="220.92" font-size="24">ゴールドオーク</text>
<text class="jt" x="10" y="259.88" font-size="24">プリズニャン</text>
<text class="jt" x="10" y="298.84" font-size="24">キラーパンサー</text>
<text class="jt" x="10" y="337.8" font-size="24">テンツク</text>
<text class="jt" x="10" y="376.76" font-size="24">ミミック</text>
<text class="jt" x="10" y="415.72" font-size="24">だいおうキッズ</text>
<text class="jt" x="10" y="454.68" font-size="24">くもの大王</text>
<text class="jt" x="10" y="493.64" font-size="24">メラリザード</text>
<text class="jt" x="10" y="532.6" font-size="24">メタルエンゼル</text>
<text class="jt" x="250.5" y="532.6" font-size="24">無効</text>
<text class="jt" x="318.45" y="532.6" font-size="24">無効</text>
<text class="jt" x="386.4" y="532.6" font-size="24">無効</text>
<text class="jt" x="454.35" y="532.6" font-size="24">無効</text>
<text class="jt" x="522.3" y="532.6" font-size="24">無効</text>
<text class="jt" x="590.25" y="532.6" font-size="24">無効</text>
<text class="jt" x="658.2" y="532.6" font-size="24">無効</text>
<text class="jt" x="726.15" y="532.6" font-size="24">無効</text>
<text class="jt" x="794.1" y="532.6" font-size="24">無効</text>
</svg>
<svg width="849" height="583" viewBox="0 0 849 583" style="left:0;top:0"><rect x="376.5" y="37.45" width="63.9" height="504.2" fill="none" stroke="#FF0000" stroke-width="4.7"/></svg>
<span class="tt" style="left:100.48px;transform:scaleX(0.957)">B(127)</span>
<span class="tt" style="left:193.23px;transform:scaleX(0.837)">B</span>
<span class="tt" style="left:560.69px;transform:scaleX(0.803)">[</span>
<span class="tt" style="left:589.95px;transform:scaleX(0.982)">74](</span>
<span class="tt" style="left:677.57px;transform:scaleX(0.793)">)</span>
<div class="c" style="left:589.5px;top:556px;font-size:18px;line-height:21px;color:#000">generated by CranberryBot</div>
</div></body></html>
